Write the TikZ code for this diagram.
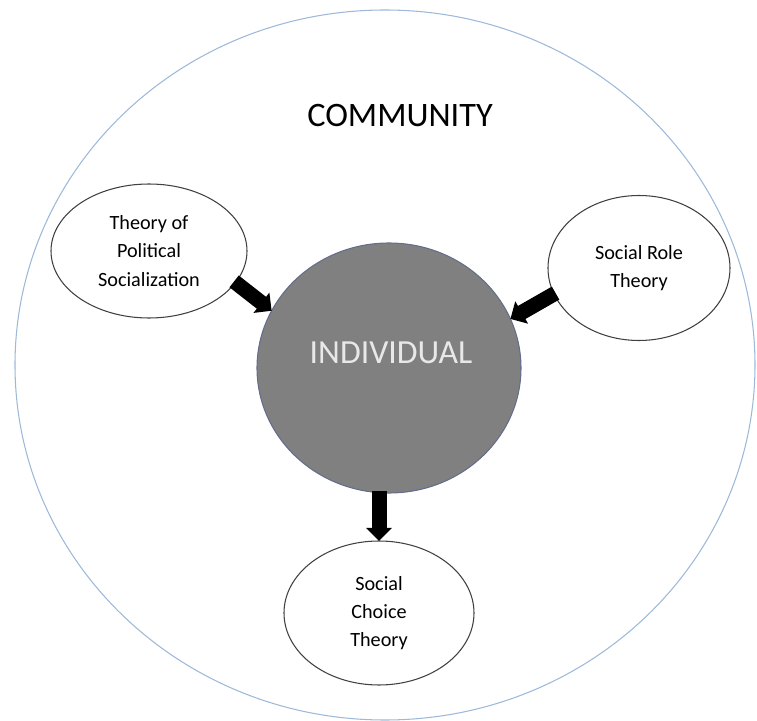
\documentclass[tikz,border=0pt]{standalone}
\usepackage{fontspec}
\setmainfont{Carlito}
\definecolor{ringblue}{RGB}{157, 184, 216}
\definecolor{coregray}{RGB}{128, 128, 128}
\definecolor{coreedge}{RGB}{100, 110, 140}
\definecolor{coretext}{RGB}{232, 232, 232}
\usetikzlibrary{shapes.geometric, arrows.meta, positioning, calc}
\tikzset{
  theory/.style={draw=black!75, fill=white, ellipse, line width=0.6pt, outer sep=0pt, inner sep=0pt, align=center, font=\fontsize{11.5}{16}\selectfont},
  bigarrow/.style={line width=0.3cm, -{Triangle[width=0.5cm, length=0.26cm]}, shorten <=-1pt}
}

\begin{document}
\begin{tikzpicture}
  \useasboundingbox (0, 0) rectangle (15.14, 14.42);

  % Community ring
  \node[draw=ringblue, line width=0.6pt, ellipse, minimum width=14.8cm, minimum height=14.2cm, outer sep=0pt] (community) at (7.70, 7.12) {};
  \node[font=\fontsize{19.5}{22}\selectfont] (communitylabel) at (8.00, 12.10) {COMMUNITY};

  % Individual
  \node[draw=coreedge, fill=coregray, line width=0.6pt, ellipse, minimum width=5.28cm, minimum height=5.0cm, outer sep=0pt] (individual) at (7.78, 7.06) {};
  \node[font=\fontsize{19.2}{22}\selectfont, text=coretext] (individuallabel) at (7.82, 7.36) {INDIVIDUAL};

  % Theories
  \node[theory, minimum width=3.92cm, minimum height=2.68cm] (political) at (2.98, 9.40) {Theory of\\Political\\Socialization};
  \node[theory, minimum width=3.64cm, minimum height=2.90cm] (socialrole) at (12.78, 9.06) {Social Role\\Theory};
  \node[theory, minimum width=3.80cm, minimum height=2.88cm] (socialchoice) at (7.58, 2.16) {Social\\Choice\\Theory};

  % Arrows
  \draw[bigarrow] (political.-20) -- (individual.154);
  \draw[bigarrow] (socialrole.197) -- (individual.22);
  \draw[bigarrow] (socialchoice.north |- individual.south) -- (socialchoice.north);
\end{tikzpicture}
\end{document}
